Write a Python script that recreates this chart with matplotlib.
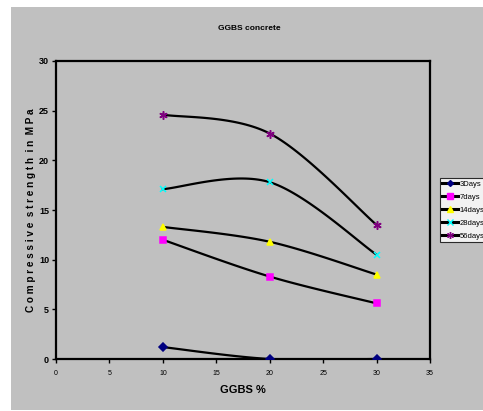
import numpy as np
import matplotlib.pyplot as plt
from matplotlib.patches import Rectangle

plt.rcParams['font.family'] = ['Liberation Sans', 'DejaVu Sans']

ggbs = [10, 20, 30]
days3 = [1.2, 0.0, 0.0]
days7 = [12.0, 8.3, 5.6]
days14 = [13.3, 11.8, 8.5]
days28 = [17.1, 17.8, 10.5]
days56 = [24.6, 22.7, 13.5]
labels = ['3Days', '7days', '14days', '28days', '56days']


def smooth(x, y, n=40):
    # Excel-like smoothed line: cubic bezier through the points
    x = np.asarray(x, float)
    y = np.asarray(y, float)
    xs, ys = [], []
    for i in range(len(x) - 1):
        p0 = np.array([x[max(i - 1, 0)], y[max(i - 1, 0)]])
        p1 = np.array([x[i], y[i]])
        p2 = np.array([x[i + 1], y[i + 1]])
        p3 = np.array([x[min(i + 2, len(x) - 1)], y[min(i + 2, len(x) - 1)]])
        c1 = p1 + (p2 - p0) / 6.0
        c2 = p2 - (p3 - p1) / 6.0
        t = np.linspace(0, 1, n)[:, None]
        pts = ((1 - t) ** 3) * p1 + 3 * ((1 - t) ** 2) * t * c1 + 3 * (1 - t) * t ** 2 * c2 + t ** 3 * p2
        xs.extend(pts[:, 0])
        ys.extend(pts[:, 1])
    return xs, ys


fig = plt.figure(figsize=(4.83, 4.11), dpi=100)
fig.patch.set_facecolor('white')
bg = Rectangle((11 / 483, 1 / 411), 1 - 11 / 483, 403 / 411,
               transform=fig.transFigure, facecolor='#c0c0c0',
               edgecolor='none', zorder=-10)
fig.add_artist(bg)

ax = fig.add_axes([56 / 483, 52 / 411, 374 / 483, 298 / 411])
ax.set_zorder(1)
ax.set_facecolor('#c0c0c0')

styles = [
    dict(marker='D', color='#000080', ms=4),
    dict(marker='s', color='#ff00ff', ms=5),
    dict(marker='^', color='#ffff00', ms=5),
    dict(marker='x', color='#00ffff', ms=5),
    dict(marker=(6, 2, 0), color='#800080', ms=6),
]
series = [days3, days7, days14, days28, days56]

for vals, lab, st in zip(series, labels, styles):
    sx, sy = smooth(ggbs, vals)
    ax.plot(sx, sy, color='black', lw=1.6, zorder=2)
    ax.plot(ggbs, vals, linestyle='none', marker=st['marker'], ms=st['ms'],
            color=st['color'], mec=st['color'], mew=1.1, zorder=3)
    ax.plot([], [], color='black', lw=2.2, marker=st['marker'], ms=st['ms'] - 1,
            mfc=st['color'], mec=st['color'], label=lab)

ax.set_xlim(0, 35)
ax.set_ylim(0, 30)
ax.set_xticks(range(0, 36, 5))
ax.set_yticks(range(0, 31, 5))
ax.tick_params(axis='x', labelsize=5, length=3, width=1, pad=5)
ax.tick_params(axis='y', labelsize=6.5, length=3, width=1, pad=2)
for t in ax.get_yticklabels():
    t.set_fontweight('bold')
for s in ax.spines.values():
    s.set_linewidth(1.6)

ax.set_xlabel('GGBS %', fontsize=8, fontweight='bold', labelpad=6)
ax.set_ylabel('C o m p r e s s i v e  s t r e n g t h  i n  M P a', fontsize=7.2,
              fontweight='bold', labelpad=2)
fig.text(249 / 483, 1 - 28 / 411, 'GGBS concrete', fontsize=6, fontweight='bold',
         ha='center', va='center')

leg = ax.legend(loc='upper left', bbox_to_anchor=(440 / 483, 1 - 178 / 411),
                bbox_transform=fig.transFigure, fontsize=5.5, frameon=True,
                fancybox=False, edgecolor='black', facecolor='white',
                handlelength=2.0, handletextpad=0.3, borderpad=0.3,
                labelspacing=0.75, borderaxespad=0)
leg.get_frame().set_linewidth(0.8)

fig.savefig('out.png', dpi=100)
